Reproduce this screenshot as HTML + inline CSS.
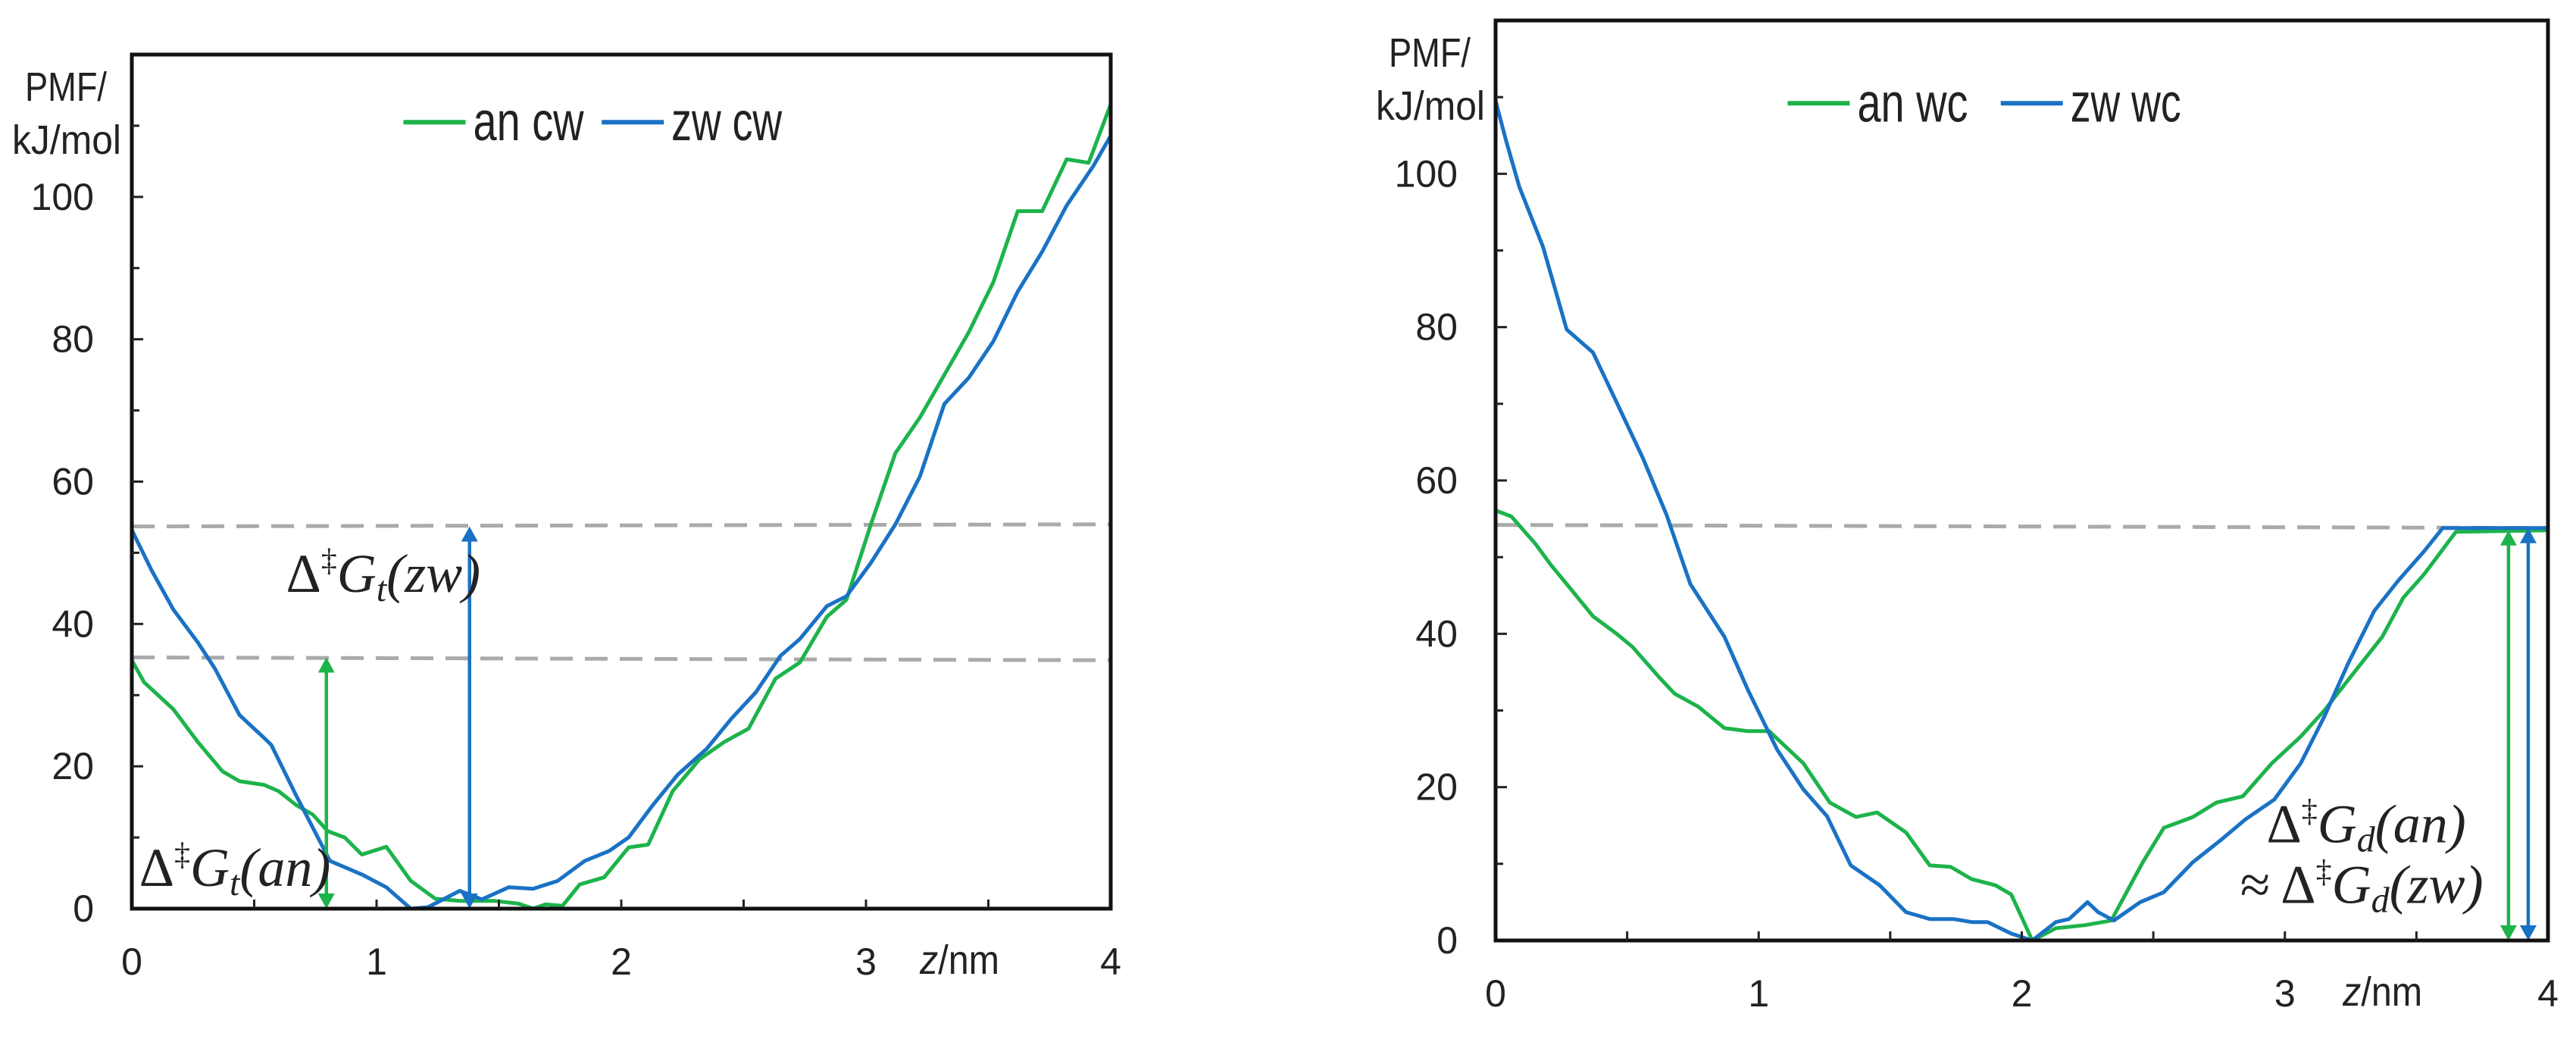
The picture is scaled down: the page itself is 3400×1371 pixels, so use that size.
<!DOCTYPE html>
<html><head><meta charset="utf-8"><style>
html,body{margin:0;padding:0;background:#fff}
svg{display:block}
.t{font-family:"Liberation Sans",sans-serif;fill:#222}
.m{font-family:"Liberation Serif",serif;font-style:italic;fill:#222}
</style></head><body>
<svg id="chart" width="3400" height="1371" viewBox="0 0 3400 1371" xmlns="http://www.w3.org/2000/svg"></svg>
<script>
const xTicks=[0,1,2,3,4];
const yTicks=[0,20,40,60,80,100];
// Left panel data
const anCwX=[0,0.05,0.17,0.27,0.37,0.44,0.54,0.6,0.67,0.74,0.8,0.87,0.94,1.04,1.14,1.24,1.34,1.48,1.58,1.64,1.69,1.76,1.83,1.93,2.03,2.11,2.21,2.32,2.42,2.52,2.63,2.73,2.84,2.92,3.02,3.12,3.22,3.32,3.42,3.52,3.62,3.72,3.82,3.91,4.0];
const anCwY=[34.9,31.8,28,23.4,19.3,17.9,17.4,16.5,14.6,13.2,10.9,10,7.6,8.7,3.9,1.4,1.1,1.1,0.7,0,0.6,0.4,3.4,4.4,8.6,9,16.5,21,23.4,25.3,32.3,34.6,41,43.4,54,64,69,75,81,88,98,98,105.3,104.8,113];
const zwCwX=[0,0.08,0.17,0.27,0.34,0.44,0.54,0.57,0.67,0.81,0.94,1.04,1.14,1.21,1.34,1.43,1.54,1.64,1.74,1.85,1.95,2.03,2.13,2.23,2.35,2.45,2.55,2.65,2.73,2.84,2.92,3.02,3.12,3.22,3.32,3.42,3.52,3.62,3.72,3.82,3.93,4.0];
const zwCwY=[53.2,47.6,42,37.4,33.7,27.2,24,23,16,6.7,4.8,3,0,0.2,2.5,1.3,3,2.8,3.9,6.7,8.1,10,14.6,18.8,22.5,26.7,30.4,35.5,37.9,42.5,43.9,48.6,54,60.7,70.9,74.6,79.7,86.7,92.3,98.8,104.4,108.6];
const cwBarriers=[[53.7,54.0],[35.3,34.9]];
// Right panel data
const anWcX=[0,0.06,0.15,0.21,0.27,0.37,0.46,0.52,0.62,0.68,0.77,0.87,0.96,1.04,1.17,1.27,1.37,1.45,1.56,1.65,1.73,1.81,1.9,1.96,2.04,2.13,2.24,2.34,2.46,2.54,2.65,2.74,2.84,2.95,3.06,3.15,3.28,3.37,3.45,3.53,3.65,4.0];
const anWcY=[56.1,55.3,51.8,49,46.5,42.3,40,38.3,34.4,32.2,30.5,27.7,27.3,27.3,23.1,18,16.1,16.7,14.1,9.8,9.6,8,7.2,6,0,1.6,2,2.6,10.2,14.7,16.1,18,18.8,23.1,26.6,30,35.7,39.6,44.7,47.8,53.3,53.5];
const zwWcX=[0,0.04,0.09,0.18,0.27,0.37,0.46,0.56,0.65,0.74,0.87,0.96,1.07,1.17,1.26,1.35,1.46,1.56,1.65,1.74,1.81,1.87,1.96,2.04,2.13,2.18,2.25,2.29,2.35,2.45,2.54,2.65,2.76,2.85,2.96,3.06,3.15,3.24,3.34,3.43,3.53,3.6,4.0];
const zwWcY=[109.5,104.3,98.3,90.5,79.7,76.7,70.2,62.9,55.5,46.5,39.6,32.6,24.9,19.7,16.2,9.8,7.2,3.7,2.8,2.8,2.4,2.4,0.9,0,2.4,2.8,5,3.7,2.6,5,6.3,10.2,13.2,15.8,18.4,23.1,29.2,36.1,43,46.9,50.8,53.8,53.8];
const wcBarriers=[[54.2,53.8]];

const NS="http://www.w3.org/2000/svg";
const svg=document.getElementById('chart');
const GREEN="#1db34b", BLUE="#1a72c4";
function mk(tag,attrs,parent){const e=document.createElementNS(NS,tag);for(const k in attrs)e.setAttribute(k,attrs[k]);(parent||svg).appendChild(e);return e;}

function panel(P){
  const g=mk('g',{});
  
  
  const sx=v=>P.x0+(P.x1-P.x0)*v/4;
  const sy=v=>P.y0-(P.y0-P.y1)*v/120;
  P.barriers.forEach(b=>{
    const l=mk('line',{x1:sx(0),y1:sy(b[0]),x2:sx(4),y2:sy(b[1]),stroke:'#aaaaaa','stroke-width':5,'stroke-dasharray':'30 16'},g);
    
    
  });
  P.series.forEach(s=>{
    const pts=s.x.map((v,i)=>sx(v).toFixed(1)+','+sy(s.y[i]).toFixed(1)).join(' ');
    const pl=mk('polyline',{points:pts,fill:'none',stroke:s.c,'stroke-width':5,'stroke-linejoin':'round'},g);
    
    
  });
  P.arrows.forEach(a=>{
    const x=sx(a.x), yb=sy(Math.min(a.y0,a.y1)), yt=sy(Math.max(a.y0,a.y1));
    const ag=mk('g',{},g);
    
    
    mk('line',{x1:x,y1:yb-14,x2:x,y2:yt+14,stroke:a.c,'stroke-width':4.5},ag);
    mk('polygon',{points:`${x-11},${yt+20} ${x+11},${yt+20} ${x},${yt}`,fill:a.c},ag);
    mk('polygon',{points:`${x-11},${yb-20} ${x+11},${yb-20} ${x},${yb}`,fill:a.c},ag);
  });
  const box=mk('rect',{x:P.x0,y:P.y1,width:P.x1-P.x0,height:P.y0-P.y1,fill:'none',stroke:'#111','stroke-width':5},g);
  
  
  for(let v=10;v<120;v+=10){mk('line',{x1:P.x0,y1:sy(v),x2:P.x0+(v%20?10:15),y2:sy(v),stroke:'#222','stroke-width':3},g);}
  for(let v=0.5;v<4;v+=0.5){mk('line',{x1:sx(v),y1:P.y0,x2:sx(v),y2:P.y0-12,stroke:'#222','stroke-width':3},g);}
  yTicks.forEach(v=>{
    const t=mk('text',{x:P.x0-50,y:sy(v)+17,'text-anchor':'end','font-size':50,class:'t'},g);
    t.textContent=v;
    
    
  });
  xTicks.forEach(v=>{
    const t=mk('text',{x:sx(v),y:P.y0+87,'text-anchor':'middle','font-size':50,class:'t'},g);
    t.textContent=v;
    
    
  });
  const xl=mk('text',{x:sx(3.22),y:P.y0+86,'font-size':54,class:'t',textLength:105,lengthAdjust:'spacingAndGlyphs'},g);
  xl.innerHTML='<tspan font-style="italic">z</tspan>/nm';
  
  
  const y1=mk('text',{x:P.x0-141,y:P.y1+61,'font-size':54,class:'t',textLength:108,lengthAdjust:'spacingAndGlyphs'},g);
  y1.textContent='PMF/';
  
  
  const y2=mk('text',{x:P.x0-158,y:P.y1+131,'font-size':54,class:'t',textLength:144,lengthAdjust:'spacingAndGlyphs'},g);
  y2.textContent='kJ/mol';
  
  
  P.series.forEach((s,i)=>{
    const lx=sx(i?1.92:1.11), ly=sy(P.legY);
    const lg=mk('g',{},g);
    
    
    mk('line',{x1:lx,y1:ly,x2:lx+82,y2:ly,stroke:s.c,'stroke-width':6},lg);
    const t=mk('text',{x:lx+92,y:ly+24,'font-size':72,class:'t',textLength:146,lengthAdjust:'spacingAndGlyphs'},lg);
    t.textContent=s.label;
  });
  P.notes.forEach(n=>{
    const t=mk('text',{x:sx(n.x),y:sy(n.y),'font-size':72,class:'m'},g);
    t.innerHTML=n.h;
    
    
  });
}
const D=(s)=>'<tspan font-style="normal">Δ</tspan><tspan font-size="42" dy="-28" font-style="normal">‡</tspan><tspan dy="28">G</tspan><tspan font-size="48" dy="12">'+s+'</tspan><tspan dy="-12">';
panel({name:'left-panel-cw',x0:174,x1:1466,y0:1199,y1:72,legY:110.5,barriers:cwBarriers,
  series:[{x:anCwX,y:anCwY,c:GREEN,n:'line-an-cw',label:'an cw'},{x:zwCwX,y:zwCwY,c:BLUE,n:'line-zw-cw',label:'zw cw'}],
  arrows:[{x:0.795,y0:0,y1:35.3,c:GREEN},{x:1.38,y0:0,y1:53.7,c:BLUE}],
  notes:[{x:0.63,y:44.5,h:D('t')+'(zw)</tspan>'},{x:0.03,y:3.2,h:D('t')+'(an)</tspan>'}]});
panel({name:'right-panel-wc',x0:1974,x1:3363,y0:1241,y1:27,legY:109.2,barriers:wcBarriers,
  series:[{x:anWcX,y:anWcY,c:GREEN,n:'line-an-wc',label:'an wc'},{x:zwWcX,y:zwWcY,c:BLUE,n:'line-zw-wc',label:'zw wc'}],
  arrows:[{x:3.85,y0:53.5,y1:0,c:GREEN},{x:3.925,y0:53.8,y1:0,c:BLUE}],
  notes:[{x:2.93,y:12.8,h:D('d')+'(an)</tspan>'},{x:2.83,y:4.9,h:'<tspan font-style="normal">≈ </tspan>'+D('d')+'(zw)</tspan>'}]});
</script>
</body></html>
